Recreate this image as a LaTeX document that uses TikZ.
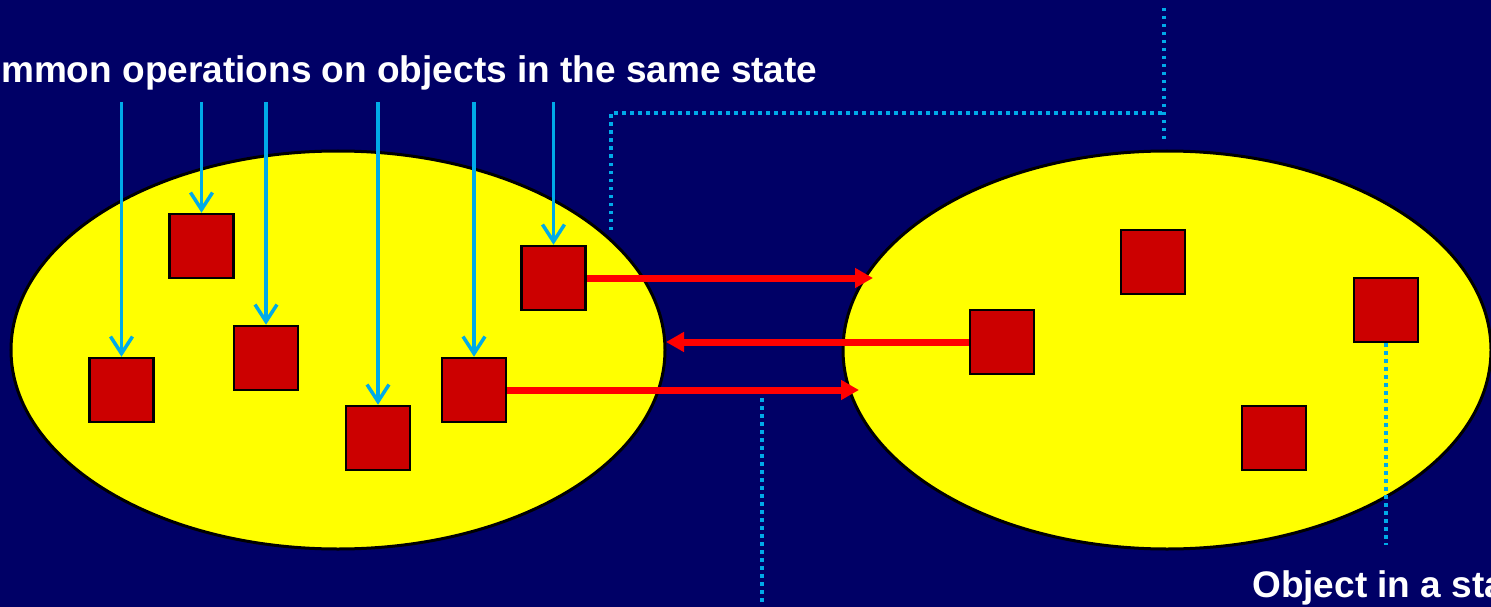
\documentclass[tikz,border=0pt]{standalone}
\usepackage{fontspec}
\setmainfont{Liberation Sans}
\usetikzlibrary{shapes.geometric,arrows.meta}
\definecolor{bg}{RGB}{0,0,102}
\definecolor{sky}{RGB}{0,170,232}
\definecolor{obj}{RGB}{204,0,0}
\definecolor{ylw}{RGB}{255,255,0}
\definecolor{arr}{RGB}{255,0,0}
\tikzset{
  stateell/.style={ellipse,draw=black,line width=3pt,fill=ylw,inner sep=0pt},
  objbox/.style={rectangle,draw=black,line width=2.5pt,fill=obj,minimum width=64pt,minimum height=64pt,inner sep=0pt},
  opline/.style={draw=sky,line width=3.5pt,-{Straight Barb[length=17pt,width=22pt,line width=3.5pt]}},
  transline/.style={draw=arr,line width=7pt,-{Triangle[length=18pt,width=19pt]}},
  dotline/.style={draw=sky,line width=3.5pt,dash pattern=on 3.5pt off 4.5pt},
  lbl/.style={text=white,font=\bfseries\fontsize{37}{40}\selectfont,inner sep=0pt,anchor=base west}
}
\begin{document}
\begin{tikzpicture}[x=1pt,y=-1pt]
\fill[bg] (0,0) rectangle (1491,607);
\useasboundingbox (0,0) rectangle (1491,607);
\clip (0,0) rectangle (1491,607);
% ellipses
\node[stateell,minimum width=654pt,minimum height=398pt] (LE) at (338,350) {};
\node[stateell,minimum width=648pt,minimum height=398pt] (RE) at (1167,350) {};
% objects
\node[objbox] (L1) at (201.5,246) {};
\node[objbox] (L2) at (121.5,390) {};
\node[objbox] (L3) at (266,358) {};
\node[objbox] (L4) at (378,438) {};
\node[objbox] (L5) at (474,390) {};
\node[objbox] (L6) at (553.5,278) {};
\node[objbox] (R1) at (1153,262) {};
\node[objbox] (R2) at (1002,342) {};
\node[objbox] (R3) at (1386,310) {};
\node[objbox] (R4) at (1274,438) {};
% labels
\node[lbl] (T1) at (1,83) {mmon operations on objects in the same state};
\node[lbl] (T2) at (1252,597) {Object in a sta};
% operation arrows
\coordinate (o1) at (121.5,102);
\coordinate (o2) at (201.5,102);
\coordinate (o3) at (266,102);
\coordinate (o4) at (378,102);
\coordinate (o5) at (474,102);
\coordinate (o6) at (553.5,102);
\draw[opline] (o1) -- (L2.north);
\draw[opline] (o2) -- (L1.north);
\draw[opline] (o3) -- (L3.north);
\draw[opline] (o4) -- (L4.north);
\draw[opline] (o5) -- (L5.north);
\draw[opline] (o6) -- (L6.north);
% transitions
\coordinate (e1) at (873,278);
\coordinate (e2) at (666,342);
\coordinate (e3) at (859,390);
\draw[transline] (L6.east) -- (e1);
\draw[transline] (R2.west) -- (e2);
\draw[transline] (L5.east) -- (e3);
% dotted callouts
\coordinate (d1) at (611,230);
\coordinate (d2) at (611,113);
\coordinate (d3) at (1164,113);
\coordinate (d4) at (1164,8);
\coordinate (d5) at (1164,140);
\coordinate (d6) at (762,398);
\coordinate (d7) at (762,602);
\coordinate (d8) at (1386,545);
\draw[dotline] (d1) -- (d2) -- (d3);
\draw[dotline] (d4) -- (d5);
\draw[dotline] (d6) -- (d7);
\draw[dotline] (R3.south) -- (d8);
\end{tikzpicture}
\end{document}
